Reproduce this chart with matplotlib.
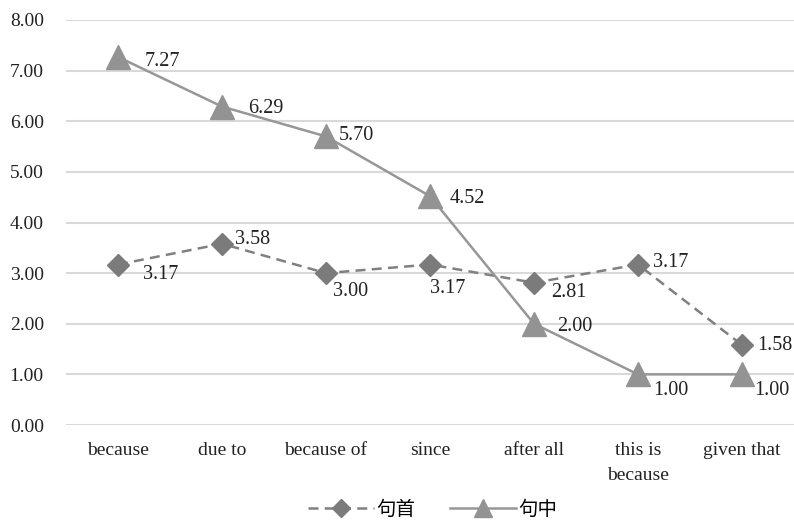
"""
Line chart: 句首 vs 句中 for causal connectives
"""
import numpy as np
import matplotlib.pyplot as plt

categories = ["because", "due to", "because of", "since", "after all",
              "this is\nbecause", "given that"]
shoushou = [3.17, 3.58, 3.00, 3.17, 2.81, 3.17, 1.58]   # 句首
zhong = [7.27, 6.29, 5.70, 4.52, 2.00, 1.00, 1.00]      # 句中

# label offsets in points (dx, dy), per point
off_shou = [(18, -7), (9, 3), (5, -13), (0, -17), (12, -7), (11, 1.6), (11, 0)]
off_zhong = [(19, -3.4), (19, -1.3), (9, 1), (14, -2), (17, -2), (11, -11.4), (9, -11.4)]

plt.rcParams['font.family'] = ['Liberation Serif', 'Noto Sans CJK SC']

fig = plt.figure(figsize=(7.94, 5.24), dpi=100)
ax = fig.add_axes([66 / 794, 1 - 425 / 524, 728 / 794, 405 / 524])

x = np.arange(len(categories))
ax.plot(x, shoushou, color="#808080", lw=1.8, ls=(0, (4, 2.5)),
        marker="D", markersize=11.5, markerfacecolor="#7b7b7b",
        markeredgecolor="#7b7b7b", label="句首", zorder=3)
ax.plot(x, zhong, color="#979797", lw=1.8, ls="-",
        marker="^", markersize=17, markerfacecolor="#939393",
        markeredgecolor="#939393", label="句中", zorder=3)

for xi, v, (dx, dy) in zip(x, shoushou, off_shou):
    ax.annotate(f"{v:.2f}", (xi, v), xytext=(dx, dy), textcoords="offset points",
                fontsize=14.5, ha="left", va="center", color="#222222")
for xi, v, (dx, dy) in zip(x, zhong, off_zhong):
    ax.annotate(f"{v:.2f}", (xi, v), xytext=(dx, dy), textcoords="offset points",
                fontsize=14.5, ha="left", va="center", color="#222222")

ax.set_xlim(-0.5, len(categories) - 0.5)
ax.set_ylim(0, 8)
ax.set_yticks(np.arange(0, 9, 1))
ax.set_yticklabels([f"{v:.2f}" for v in np.arange(0, 9, 1)], fontsize=14,
                   color="#222222")
ax.set_xticks(x)
ax.set_xticklabels(categories, fontsize=14, color="#222222", linespacing=1.65)
ax.tick_params(axis="both", length=0)
ax.tick_params(axis="y", pad=16)
ax.tick_params(axis="x", pad=12)
ax.grid(axis="y", color="#d9d9d9", lw=1.5)
ax.set_axisbelow(True)
for s in ax.spines.values():
    s.set_visible(False)

fig.legend(loc="lower center", bbox_to_anchor=(0.545, -0.025), ncol=2,
           frameon=False, handlelength=3.4, columnspacing=1.8, markerscale=0.8,
           handletextpad=0.1, prop={'family': ['Noto Sans CJK SC'], 'size': 14})

fig.savefig("out.png", dpi=100)
